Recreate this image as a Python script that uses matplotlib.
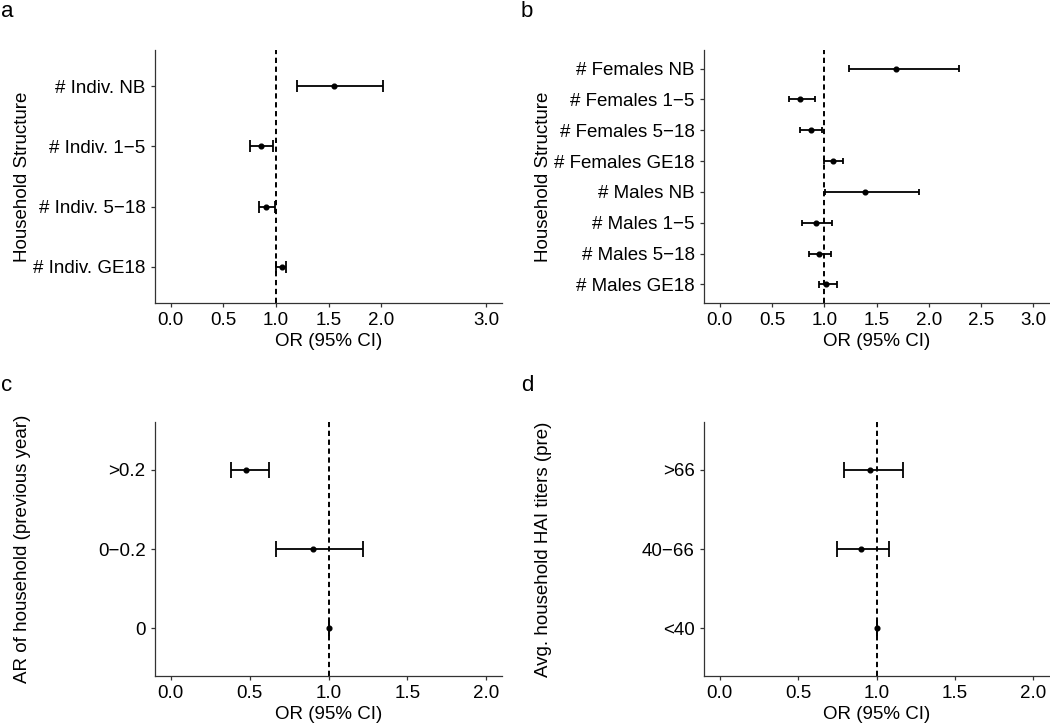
import numpy as np
import matplotlib.pyplot as plt

plt.rcParams['font.family'] = ['Liberation Sans', 'DejaVu Sans']
plt.rcParams['lines.scale_dashes'] = False

# a: household structure (all individuals)
cat_a = ['# Indiv. NB', '# Indiv. 1−5', '# Indiv. 5−18', '# Indiv. GE18']
or_a = [1.55, 0.86, 0.91, 1.06]
lo_a = [1.20, 0.75, 0.84, 1.00]
hi_a = [2.02, 0.97, 0.99, 1.10]

# b: household structure by sex
cat_b = ['# Females NB', '# Females 1−5', '# Females 5−18', '# Females GE18',
         '# Males NB', '# Males 1−5', '# Males 5−18', '# Males GE18']
or_b = [1.69, 0.77, 0.87, 1.08, 1.39, 0.92, 0.95, 1.02]
lo_b = [1.24, 0.66, 0.77, 1.00, 1.01, 0.79, 0.85, 0.95]
hi_b = [2.29, 0.91, 0.98, 1.18, 1.91, 1.07, 1.06, 1.12]

# c: attack rate of household previous year
cat_c = ['>0.2', '0−0.2', '0']
or_c = [0.48, 0.90, 1.00]
lo_c = [0.38, 0.67, 1.00]
hi_c = [0.62, 1.22, 1.00]

# d: avg household HAI titers
cat_d = ['>66', '40−66', '<40']
or_d = [0.96, 0.90, 1.00]
lo_d = [0.79, 0.75, 1.00]
hi_d = [1.17, 1.08, 1.00]

W, H = 1050, 725
fig = plt.figure(figsize=(W / 100, H / 100), dpi=100)


def box(l, t, r, b):
    return [l / W, (H - b) / H, (r - l) / W, (b - t) / H]


def forest(ax, cats, est, lo, hi, xmax, xticks, ylab, lab_x):
    n = len(cats)
    y = np.arange(n)[::-1]
    ax.axvline(1, color='black', lw=1.4, ls=(0, (3.8, 2.6)), zorder=1)
    ax.hlines(y, lo, hi, color='black', lw=1.3, zorder=2)
    ax.vlines(lo, y - 0.1, y + 0.1, color='black', lw=1.3, zorder=2)
    ax.vlines(hi, y - 0.1, y + 0.1, color='black', lw=1.3, zorder=2)
    ax.plot(est, y, 'o', color='black', ms=3.4, zorder=3)
    ax.set_xlim(-0.05 * xmax, 1.05 * xmax)
    ax.set_ylim(-0.6, n - 0.4)
    ax.set_xticks(xticks)
    ax.set_xticklabels([f'{t:.1f}' for t in xticks])
    ax.set_yticks(y)
    ax.set_yticklabels(cats)
    for s in ['top', 'right']:
        ax.spines[s].set_visible(False)
    for s in ['left', 'bottom']:
        ax.spines[s].set_color('#333333')
        ax.spines[s].set_linewidth(0.9)
    ax.tick_params(length=3.2, width=0.9, color='#333333', labelsize=13.5,
                   labelcolor='black', pad=3.5)
    ax.set_xlabel('OR (95% CI)', fontsize=13.5, labelpad=3)
    pos = ax.get_position()
    fig.text(lab_x / W, pos.y0 + pos.height / 2, ylab, rotation=90,
             ha='center', va='center', fontsize=13.5)


ax_a = fig.add_axes(box(155, 50, 502, 303))
forest(ax_a, cat_a, or_a, lo_a, hi_a, 3, [0, 0.5, 1, 1.5, 2, 3],
       'Household Structure', 23)
ax_b = fig.add_axes(box(704, 50, 1049, 303))
forest(ax_b, cat_b, or_b, lo_b, hi_b, 3, [0, 0.5, 1, 1.5, 2, 2.5, 3],
       'Household Structure', 543)
ax_c = fig.add_axes(box(155, 422, 502, 676))
forest(ax_c, cat_c, or_c, lo_c, hi_c, 2, [0, 0.5, 1, 1.5, 2],
       'AR of household (previous year)', 23)
ax_d = fig.add_axes(box(704, 422, 1049, 676))
forest(ax_d, cat_d, or_d, lo_d, hi_d, 2, [0, 0.5, 1, 1.5, 2],
       'Avg. household HAI titers (pre)', 543)

for letter, x, yb in [('a', 1, 17), ('b', 521, 17), ('c', 1, 391), ('d', 521, 391)]:
    fig.text(x / W, (H - yb) / H, letter, fontsize=16, ha='left', va='baseline')

fig.savefig('out.png', dpi=100)
